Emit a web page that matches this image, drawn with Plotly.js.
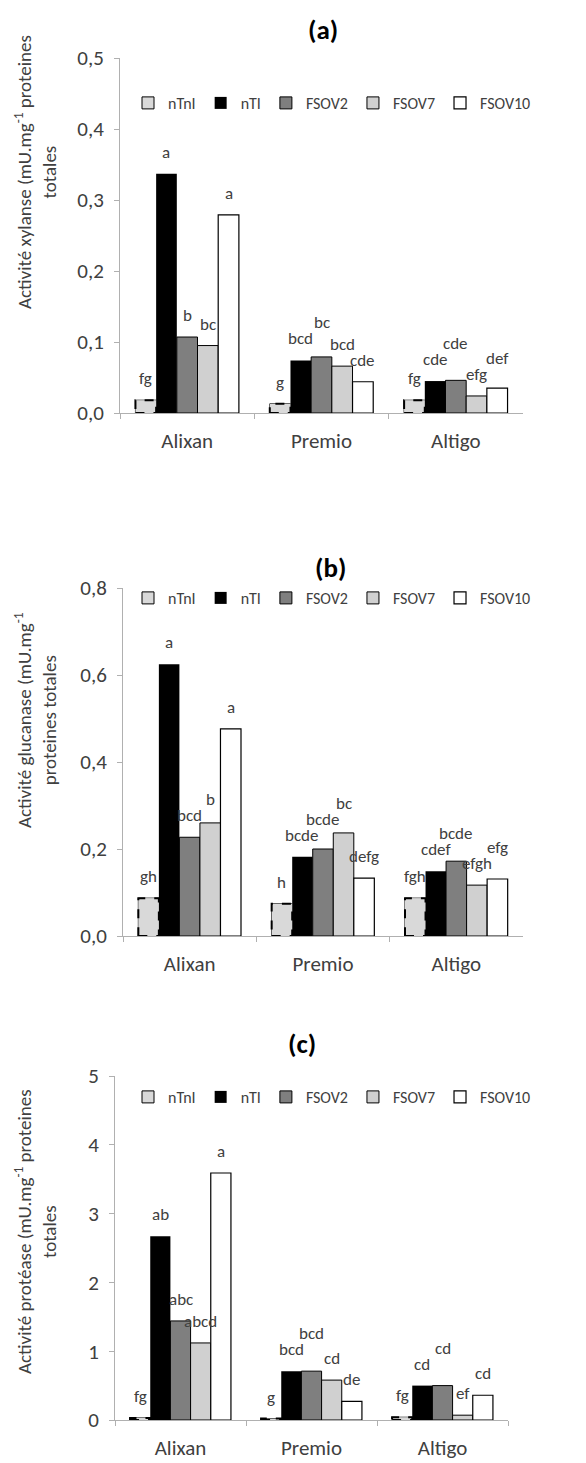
<!DOCTYPE html>
<html>
<head>
<meta charset="utf-8">
<script src="https://cdn.plot.ly/plotly-3.0.1.min.js"></script>
<style>html,body{margin:0;padding:0;background:#fff;}#chart{width:586px;height:1463px;}</style>
</head>
<body>
<div id="chart"></div>
<script>
// ---------- DATA ----------
const categories = ['Alixan', 'Premio', 'Altigo'];
const seriesNames = ['nTnI', 'nTI', 'FSOV2', 'FSOV7', 'FSOV10'];

// (a) xylanase
const xylNTnI   = [0.018, 0.013, 0.018];
const xylNTI    = [0.337, 0.074, 0.045];
const xylFSOV2  = [0.107, 0.079, 0.046];
const xylFSOV7  = [0.095, 0.066, 0.024];
const xylFSOV10 = [0.279, 0.044, 0.035];
const xylLetNTnI   = ['fg', 'g', 'fg'];
const xylLetNTI    = ['a', 'bcd', 'cde'];
const xylLetFSOV2  = ['b', 'bc', 'cde'];
const xylLetFSOV7  = ['bc', 'bcd', 'efg'];
const xylLetFSOV10 = ['a', 'cde', 'def'];

// (b) glucanase
const gluNTnI   = [0.087, 0.074, 0.087];
const gluNTI    = [0.625, 0.182, 0.149];
const gluFSOV2  = [0.227, 0.200, 0.172];
const gluFSOV7  = [0.260, 0.237, 0.117];
const gluFSOV10 = [0.476, 0.133, 0.131];
const gluLetNTnI   = ['gh', 'h', 'fgh'];
const gluLetNTI    = ['a', 'bcde', 'cdef'];
const gluLetFSOV2  = ['bcd', 'bcde', 'bcde'];
const gluLetFSOV7  = ['b', 'bc', 'efgh'];
const gluLetFSOV10 = ['a', 'defg', 'efg'];

// (c) protease
const proNTnI   = [0.03, 0.02, 0.04];
const proNTI    = [2.67, 0.71, 0.50];
const proFSOV2  = [1.44, 0.71, 0.50];
const proFSOV7  = [1.12, 0.58, 0.07];
const proFSOV10 = [3.59, 0.27, 0.36];
const proLetNTnI   = ['fg', 'g', 'fg'];
const proLetNTI    = ['ab', 'bcd', 'cd'];
const proLetFSOV2  = ['abc', 'bcd', 'cd'];
const proLetFSOV7  = ['abcd', 'cd', 'ef'];
const proLetFSOV10 = ['a', 'de', 'cd'];

const panelTitles = ['(a)', '(b)', '(c)'];
const yTitles = [
  'Activité xylanse (mU.mg<sup>-1</sup> proteines<br>totales',
  'Activité glucanase (mU.mg<sup>-1</sup><br>proteines totales',
  'Activité protéase (mU.mg<sup>-1</sup> proteines<br>totales'
];

// ---------- STYLE ----------
const W = 586, H = 1463;
const FONT = 'Carlito, Lato, sans-serif';
const TXT = '#404040';
const fills = ['#d9d9d9', '#000000', '#7f7f7f', '#d0d0d0', '#ffffff'];
const lineW = [1, 0, 1, 1, 1.2];
const BARGAP = 0.23;
const LABEL_SIZE = 17;
const LABEL_GAP = 9;      // px between bar top and its letter label
const LABEL_STEP = 16;    // px minimum vertical separation between neighbouring labels

const panels = [
  {vals: [xylNTnI, xylNTI, xylFSOV2, xylFSOV7, xylFSOV10],
   lets: [xylLetNTnI, xylLetNTI, xylLetFSOV2, xylLetFSOV7, xylLetFSOV10],
   range: [0, 0.5], dtick: 0.1, fmt: '.1f',
   px: {l: 120, r: 523, t: 58, b: 413}, title: {x: 323, y: 30},
   legendY: 103, ytitle: {x: 36, y: 172}},
  {vals: [gluNTnI, gluNTI, gluFSOV2, gluFSOV7, gluFSOV10],
   lets: [gluLetNTnI, gluLetNTI, gluLetFSOV2, gluLetFSOV7, gluLetFSOV10],
   range: [0, 0.8], dtick: 0.2, fmt: '.1f',
   px: {l: 123, r: 523, t: 588, b: 936}, title: {x: 330, y: 567},
   legendY: 598, ytitle: {x: 35, y: 720}},
  {vals: [proNTnI, proNTI, proFSOV2, proFSOV7, proFSOV10],
   lets: [proLetNTnI, proLetNTI, proLetFSOV2, proLetFSOV7, proLetFSOV10],
   range: [0, 5], dtick: 1, fmt: 'd',
   px: {l: 115, r: 508, t: 1076, b: 1420}, title: {x: 302, y: 1043},
   legendY: 1097, ytitle: {x: 35, y: 1232}}
];

const traces = [];
const annotations = [];
const shapes = [];
const layout = {
  width: W, height: H,
  margin: {l: 0, r: 0, t: 0, b: 0},
  paper_bgcolor: '#fff', plot_bgcolor: '#fff',
  separators: ', ',
  font: {family: FONT, color: TXT, size: 16},
  barmode: 'group', bargap: BARGAP, bargroupgap: 0,
  showlegend: true
};

const bw = (1 - BARGAP) / seriesNames.length;

panels.forEach((p, k) => {
  const sfx = k === 0 ? '' : String(k + 1);
  const xa = 'x' + sfx, ya = 'y' + sfx;
  const legName = 'legend' + sfx;
  const pxPerUnit = (p.px.b - p.px.t) / (p.range[1] - p.range[0]);

  seriesNames.forEach((name, j) => {
    traces.push({
      type: 'bar', name: name, x: categories, y: p.vals[j],
      xaxis: xa, yaxis: ya, legend: legName,
      marker: {color: fills[j], line: {color: '#000', width: lineW[j]}},
      hoverinfo: 'skip'
    });
  });

  categories.forEach((c, i) => {
    let prevH = null; // px above baseline of previous label bottom
    seriesNames.forEach((name, j) => {
      const v = p.vals[j][i];
      const x0 = i - (1 - BARGAP) / 2 + bw * j;
      const xc = x0 + bw / 2;
      let h = v * pxPerUnit + LABEL_GAP;
      if (prevH !== null && h >= prevH - 8 && h < prevH + LABEL_STEP) {
        h = prevH + LABEL_STEP;
      }
      prevH = h;
      annotations.push({
        xref: xa, yref: ya, x: xc, y: v,
        text: p.lets[j][i], showarrow: false,
        yanchor: 'bottom', yshift: h - v * pxPerUnit,
        font: {size: LABEL_SIZE, color: TXT, family: FONT}
      });
      if (j === 0) {
        shapes.push({
          type: 'rect', xref: xa, yref: ya,
          x0: x0, x1: x0 + bw, y0: 0, y1: v,
          line: {color: '#000', width: 2, dash: 'dash'}, fillcolor: '#d9d9d9'
        });
      }
    });
  });

  layout['xaxis' + sfx] = {
    domain: [p.px.l / W, p.px.r / W], anchor: ya,
    type: 'category', range: [-0.5, 2.5],
    showline: true, linecolor: '#b0b0b0', linewidth: 1,
    ticks: 'outside', tickson: 'boundaries', ticklen: 5, tickcolor: '#b0b0b0',
    tickfont: {size: 21, color: TXT, family: FONT}, ticklabelstandoff: 9,
    showgrid: false, zeroline: false, fixedrange: true
  };
  layout['yaxis' + sfx] = {
    domain: [1 - p.px.b / H, 1 - p.px.t / H], anchor: xa,
    range: p.range, dtick: p.dtick, tick0: 0, tickformat: p.fmt,
    showline: true, linecolor: '#b0b0b0', linewidth: 1,
    ticks: 'outside', ticklen: 5, tickcolor: '#b0b0b0',
    tickfont: {size: 21, color: TXT, family: FONT}, ticklabelstandoff: 6,
    showgrid: false, zeroline: false, fixedrange: true
  };
  layout[legName] = {
    orientation: 'h', x: 128 / W, xanchor: 'left',
    y: 1 - p.legendY / H, yanchor: 'middle',
    font: {size: 16, color: TXT, family: FONT},
    bgcolor: 'rgba(0,0,0,0)', traceorder: 'normal', itemwidth: 30
  };
  annotations.push({
    xref: 'paper', yref: 'paper', x: p.title.x / W, y: 1 - p.title.y / H,
    text: '<b>' + panelTitles[k] + '</b>', showarrow: false,
    xanchor: 'center', yanchor: 'middle',
    font: {size: 27, color: '#000', family: FONT}
  });
  annotations.push({
    xref: 'paper', yref: 'paper', x: p.ytitle.x / W, y: 1 - p.ytitle.y / H,
    text: yTitles[k], showarrow: false, textangle: -90,
    xanchor: 'center', yanchor: 'middle',
    font: {size: 19, color: TXT, family: FONT}
  });
});

layout.annotations = annotations;
layout.shapes = shapes;

Plotly.newPlot('chart', traces, layout, {displayModeBar: false, staticPlot: true});
</script>
</body>
</html>
